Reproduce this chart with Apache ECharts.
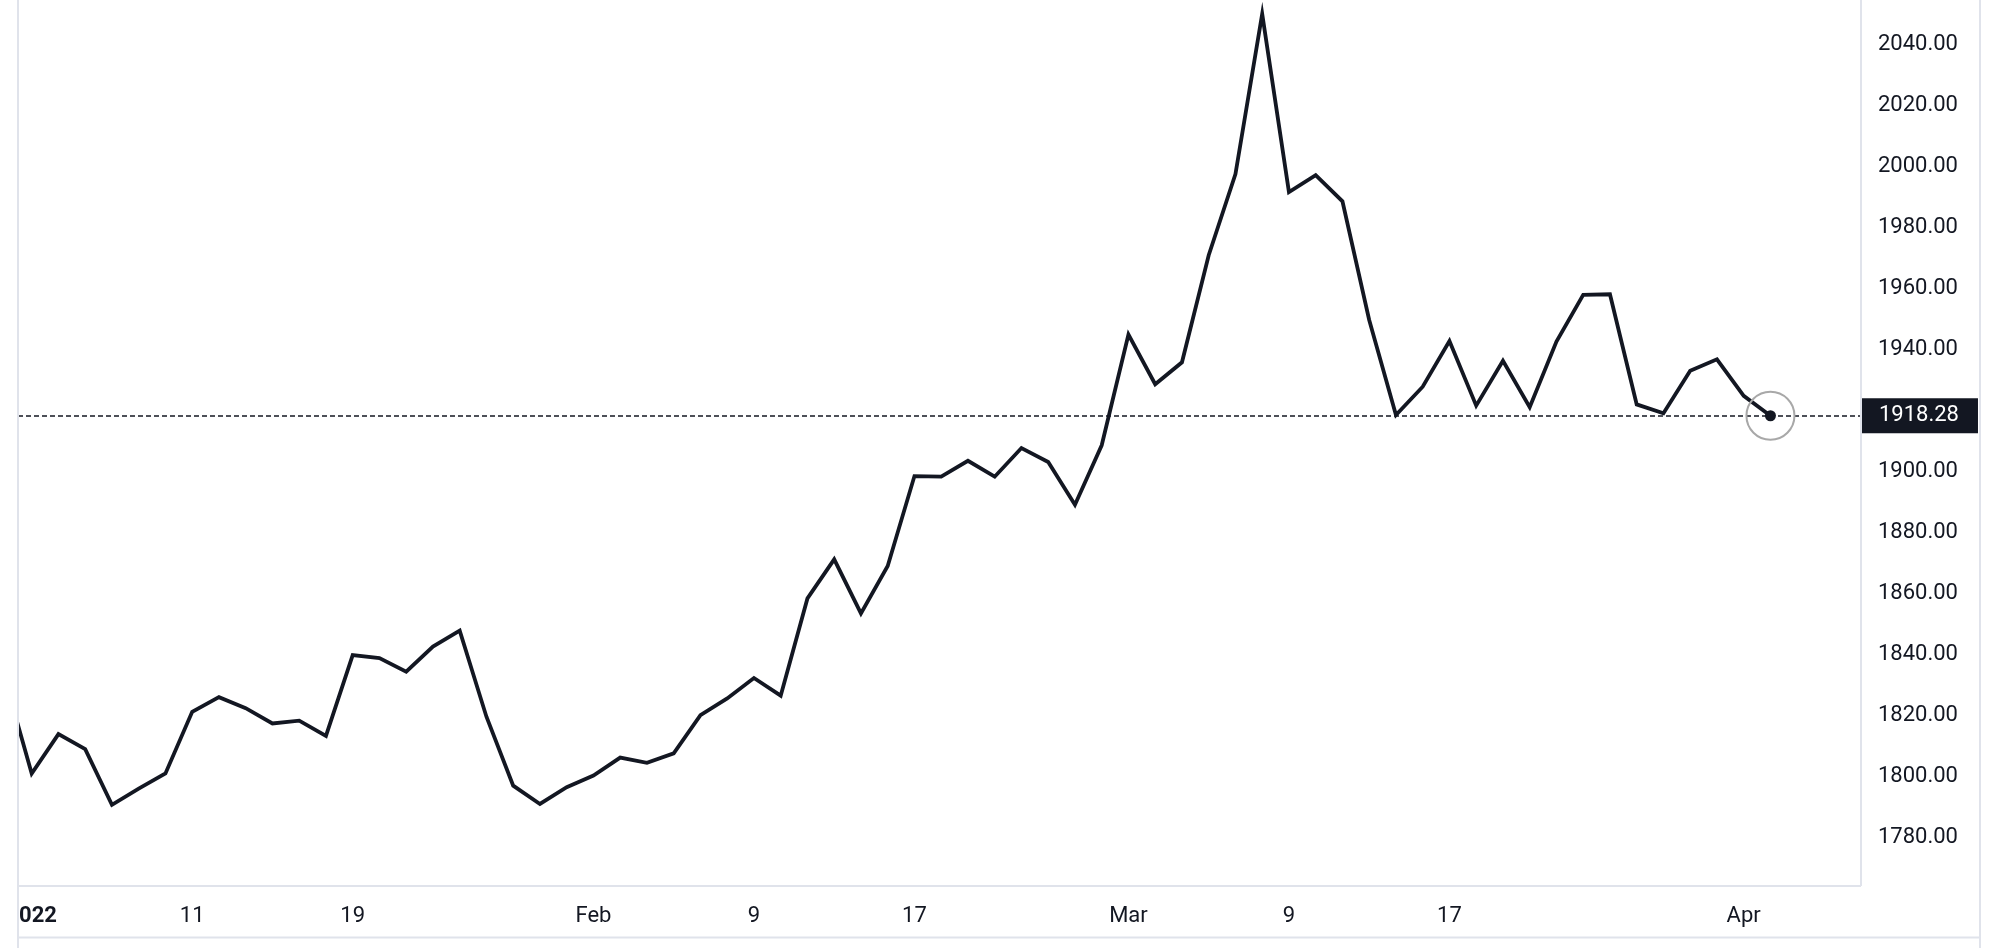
<!DOCTYPE html>
<html>
<head>
<meta charset="utf-8">
<script src="https://cdn.jsdelivr.net/npm/echarts@6/dist/echarts.min.js"></script>
<style>
html,body{margin:0;padding:0;background:#fff;}
#chart{width:1998px;height:948px;}
</style>
</head>
<body>
<div id="chart"></div>
<script>
// Trading days (weekends skipped)
const dates = [
 "2021-12-31",
 "2022-01-03","2022-01-04","2022-01-05","2022-01-06","2022-01-07",
 "2022-01-10","2022-01-11","2022-01-12","2022-01-13","2022-01-14",
 "2022-01-17","2022-01-18","2022-01-19","2022-01-20","2022-01-21",
 "2022-01-24","2022-01-25","2022-01-26","2022-01-27","2022-01-28",
 "2022-01-31","2022-02-01","2022-02-02","2022-02-03","2022-02-04",
 "2022-02-07","2022-02-08","2022-02-09","2022-02-10","2022-02-11",
 "2022-02-14","2022-02-15","2022-02-16","2022-02-17","2022-02-18",
 "2022-02-21","2022-02-22","2022-02-23","2022-02-24","2022-02-25",
 "2022-02-28","2022-03-01","2022-03-02","2022-03-03","2022-03-04",
 "2022-03-07","2022-03-08","2022-03-09","2022-03-10","2022-03-11",
 "2022-03-14","2022-03-15","2022-03-16","2022-03-17","2022-03-18",
 "2022-03-21","2022-03-22","2022-03-23","2022-03-24","2022-03-25",
 "2022-03-28","2022-03-29","2022-03-30","2022-03-31","2022-04-01",
 "2022-04-04"
];
const prices = [
 1832.0,
 1801.0,1813.9,1809.0,1790.7,1796.0,
 1801.0,1821.2,1826.0,1822.4,1817.4,
 1818.3,1813.3,1839.8,1838.8,1834.4,
 1842.6,1847.8,1819.6,1797.0,1791.0,
 1796.5,1800.3,1806.2,1804.5,1807.6,
 1820.1,1825.6,1832.3,1826.5,1858.4,
 1871.2,1853.5,1869.0,1898.5,1898.3,
 1903.5,1898.3,1907.7,1903.1,1889.1,
 1908.6,1944.9,1928.6,1935.8,1970.9,
 1997.5,2050.0,1991.6,1997.2,1988.6,
 1949.7,1918.5,1927.8,1942.8,1921.6,
 1936.3,1921.1,1942.6,1957.9,1958.1,
 1922.0,1919.1,1933.0,1936.8,1924.8,
 1918.28
];
const tickDates = ["2022-01-03","2022-01-11","2022-01-19","2022-02-01","2022-02-09","2022-02-17","2022-03-01","2022-03-09","2022-03-17","2022-04-01"];
const tickLabels = ["2022","11","19","Feb","9","17","Mar","9","17","Apr"];
const yTicks = [1780,1800,1820,1840,1860,1880,1900,1920,1940,1960,1980,2000,2020,2040];

const tickIdx = tickDates.map(d => dates.indexOf(d));
const seriesData = prices.map((p, i) => [i, p]);
const lastIdx = prices.length - 1;
const lastVal = prices[lastIdx];

const FONT = 'Roboto';
const TXT = '#131722';
const BORDER = '#e0e3eb';

const chart = echarts.init(document.getElementById('chart'), null, {renderer: 'canvas'});
chart.setOption({
  animation: false,
  backgroundColor: '#ffffff',
  grid: {
    left: 18, right: 137, top: 0, bottom: 62,
    show: false
  },
  xAxis: {
    type: 'value',
    min: 0.4879, max: 69.385,
    axisLine: {show: false},
    axisTick: {show: false},
    splitLine: {show: false},
    axisLabel: {
      customValues: tickIdx,
      margin: 19,
      color: TXT,
      fontFamily: FONT,
      fontSize: 22,
      formatter: function (v) {
        const k = tickIdx.indexOf(Math.round(v));
        if (k < 0) return '';
        const t = tickLabels[k];
        return /^\d{4}$/.test(t) ? '{b|' + t + '}' : t;
      },
      rich: {b: {fontWeight: 'bold', fontFamily: FONT, fontSize: 22, color: TXT}}
    }
  },
  yAxis: {
    type: 'value',
    position: 'right',
    min: 1764.1, max: 2054.59,
    axisLine: {show: false},
    axisTick: {show: false},
    splitLine: {show: false},
    axisLabel: {
      customValues: yTicks,
      margin: 17,
      color: TXT,
      fontFamily: FONT,
      fontSize: 22,
      formatter: v => Number(v).toFixed(2)
    }
  },
  series: [{
    type: 'line',
    data: seriesData,
    showSymbol: false,
    symbol: 'none',
    clip: true,
    lineStyle: {color: TXT, width: 3.8, join: 'miter'},
    markLine: {
      silent: true,
      symbol: ['none', 'none'],
      lineStyle: {color: TXT, width: 1.5, type: [5, 3]},
      label: {
        show: true,
        position: 'end',
        distance: 0,
        formatter: () => lastVal.toFixed(2),
        color: '#ffffff',
        fontFamily: FONT,
        fontSize: 22,
        lineHeight: 22,
        backgroundColor: '#131722',
        padding: [7, 19, 6, 18]
      },
      data: [{yAxis: lastVal}]
    },
    markPoint: {
      silent: true,
      label: {show: false},
      data: [
        {coord: [lastIdx, lastVal], symbol: 'circle', symbolSize: 48,
         itemStyle: {color: 'rgba(255,255,255,0)', borderColor: '#a8a8a8', borderWidth: 2}},
        {coord: [lastIdx, lastVal], symbol: 'circle', symbolSize: 11,
         itemStyle: {color: TXT, borderWidth: 0}}
      ]
    }
  }],
  graphic: [
    {type: 'rect', z: 50, shape: {x: 0, y: 0, width: 17, height: 948}, style: {fill: '#ffffff'}},
    {type: 'line', z: 60, shape: {x1: 18, y1: 0, x2: 18, y2: 948}, style: {stroke: BORDER, lineWidth: 2}},
    {type: 'line', z: 60, shape: {x1: 1861, y1: 0, x2: 1861, y2: 886}, style: {stroke: BORDER, lineWidth: 2}},
    {type: 'line', z: 60, shape: {x1: 18, y1: 886, x2: 1861, y2: 886}, style: {stroke: BORDER, lineWidth: 2}},
    {type: 'line', z: 60, shape: {x1: 18, y1: 937.5, x2: 1980, y2: 937.5}, style: {stroke: BORDER, lineWidth: 2}},
    {type: 'line', z: 60, shape: {x1: 1980, y1: 0, x2: 1980, y2: 948}, style: {stroke: BORDER, lineWidth: 2}}
  ]
});
</script>
</body>
</html>
